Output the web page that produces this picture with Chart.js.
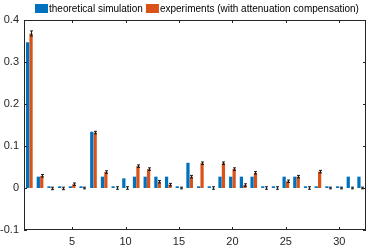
<!DOCTYPE html>
<html>
<head>
<meta charset="utf-8">
<script src="https://cdn.jsdelivr.net/npm/chart.js@4"></script>
<style>
  html, body { margin: 0; padding: 0; background: #fff; }
  #wrap { width: 374px; height: 250px; }
</style>
</head>
<body>
<div id="wrap"><canvas id="myChart" width="374" height="250"></canvas></div>
<script>
const labels = ['1','2','3','4','5','6','7','8','9','10','11','12','13','14','15','16',
                '17','18','19','20','21','22','23','24','25','26','27','28','29','30','31','32'];

const theory = [0.347, 0.027, 0.004, 0.004, 0.004, 0.004, 0.134, 0.027, 0.004, 0.023, 0.027, 0.027, 0.027, 0.027, 0.004, 0.060,
                0.004, 0.004, 0.027, 0.027, 0.027, 0.027, 0.004, 0.004, 0.027, 0.027, 0.004, 0.004, 0.004, 0.004, 0.027, 0.027];

const experiment = [0.368, 0.029, -0.001, -0.001, 0.009, 0.000, 0.132, 0.038, 0.000, 0.000, 0.052, 0.045, 0.015, 0.008, 0.000, 0.027,
                    0.059, 0.000, 0.059, 0.045, 0.007, 0.036, 0.000, 0.000, 0.016, 0.027, 0.000, 0.039, 0.000, 0.000, 0.000, 0.000];

const experimentErr = [0.006, 0.003, 0.003, 0.003, 0.003, 0.002, 0.003, 0.003, 0.003, 0.003, 0.003, 0.003, 0.003, 0.003, 0.002, 0.003,
                       0.003, 0.003, 0.003, 0.003, 0.003, 0.003, 0.003, 0.003, 0.003, 0.003, 0.003, 0.003, 0.002, 0.002, 0.002, 0.002];

const yTicks = [-0.1, 0, 0.1, 0.2, 0.3, 0.4];

const axisColor = '#262626';
const fontFamily = "'Liberation Sans', Arial, sans-serif";

// error bars, inward ticks, box and legend (matlab look)
const matlabStyle = {
    id: 'matlabStyle',
    afterDatasetsDraw(chart) {
        const ctx = chart.ctx;
        const y = chart.scales.y;
        const meta = chart.getDatasetMeta(1);
        ctx.save();
        ctx.strokeStyle = '#1a1a1a';
        ctx.lineWidth = 1;
        meta.data.forEach((bar, i) => {
            const x = Math.round(bar.x) + 0.5;
            const top = y.getPixelForValue(experiment[i] + experimentErr[i]);
            const bot = y.getPixelForValue(experiment[i] - experimentErr[i]);
            ctx.beginPath();
            ctx.moveTo(x, top); ctx.lineTo(x, bot);
            ctx.moveTo(x - 1.5, top); ctx.lineTo(x + 1.5, top);
            ctx.moveTo(x - 1.5, bot); ctx.lineTo(x + 1.5, bot);
            ctx.stroke();
        });
        ctx.restore();
    },
    afterDraw(chart) {
        const ctx = chart.ctx;
        const a = chart.chartArea;
        const xs = chart.scales.x;
        const ys = chart.scales.y;
        ctx.save();
        ctx.strokeStyle = axisColor;
        ctx.lineWidth = 1;
        ctx.strokeRect(Math.round(a.left) + 0.5, Math.round(a.top) + 0.5,
                       Math.round(a.right - a.left) - 1, Math.round(a.bottom - a.top) - 1);
        ctx.beginPath();
        labels.forEach((l, i) => {
            if ((i + 1) % 5 !== 0) return;
            const px = Math.round(xs.getPixelForValue(i)) + 0.5;
            ctx.moveTo(px, a.bottom); ctx.lineTo(px, a.bottom - 3);
            ctx.moveTo(px, a.top); ctx.lineTo(px, a.top + 3);
        });
        yTicks.forEach(v => {
            const py = Math.round(ys.getPixelForValue(v)) + 0.5;
            ctx.moveTo(a.left, py); ctx.lineTo(a.left + 3, py);
            ctx.moveTo(a.right, py); ctx.lineTo(a.right - 3, py);
        });
        ctx.stroke();

        // legend
        ctx.font = '10px ' + fontFamily;
        ctx.textBaseline = 'middle';
        ctx.fillStyle = '#000';
        let lx = 35;
        chart.data.datasets.forEach(ds => {
            ctx.fillStyle = ds.backgroundColor;
            ctx.fillRect(lx, 4, 13, 9);
            ctx.fillStyle = '#000';
            ctx.fillText(ds.label, lx + 14, 9);
            lx += 14 + ctx.measureText(ds.label).width + 3;
        });
        ctx.restore();
    }
};

new Chart(document.getElementById('myChart'), {
    type: 'bar',
    data: {
        labels,
        datasets: [{
            label: 'theoretical simulation',
            data: theory,
            backgroundColor: '#0072BD',
            categoryPercentage: 0.64,
            barPercentage: 0.95
        }, {
            label: 'experiments (with attenuation compensation)',
            data: experiment,
            backgroundColor: '#D95319',
            categoryPercentage: 0.64,
            barPercentage: 0.95
        }]
    },
    options: {
        responsive: false,
        animation: false,
        devicePixelRatio: 1,
        layout: { padding: { top: 20, right: 8, left: 0, bottom: 0 } },
        plugins: {
            legend: { display: false },
            tooltip: { enabled: false }
        },
        scales: {
            x: {
                grid: { display: false, drawTicks: false, tickLength: 0 },
                border: { display: false },
                ticks: {
                    autoSkip: false,
                    maxRotation: 0,
                    padding: 5,
                    color: axisColor,
                    font: { family: fontFamily, size: 11 },
                    callback: (v, i) => (i + 1) % 5 === 0 ? labels[i] : ''
                },
                afterFit: s => { s.height = 20; }
            },
            y: {
                min: -0.1,
                max: 0.4,
                grid: { display: false, drawTicks: false, tickLength: 0 },
                border: { display: false },
                ticks: {
                    stepSize: 0.1,
                    padding: 5,
                    color: axisColor,
                    font: { family: fontFamily, size: 11 },
                    callback: v => String(Math.round(v * 10) / 10)
                },
                afterFit: s => { s.width = 24; }
            }
        }
    },
    plugins: [matlabStyle]
});
</script>
</body>
</html>
